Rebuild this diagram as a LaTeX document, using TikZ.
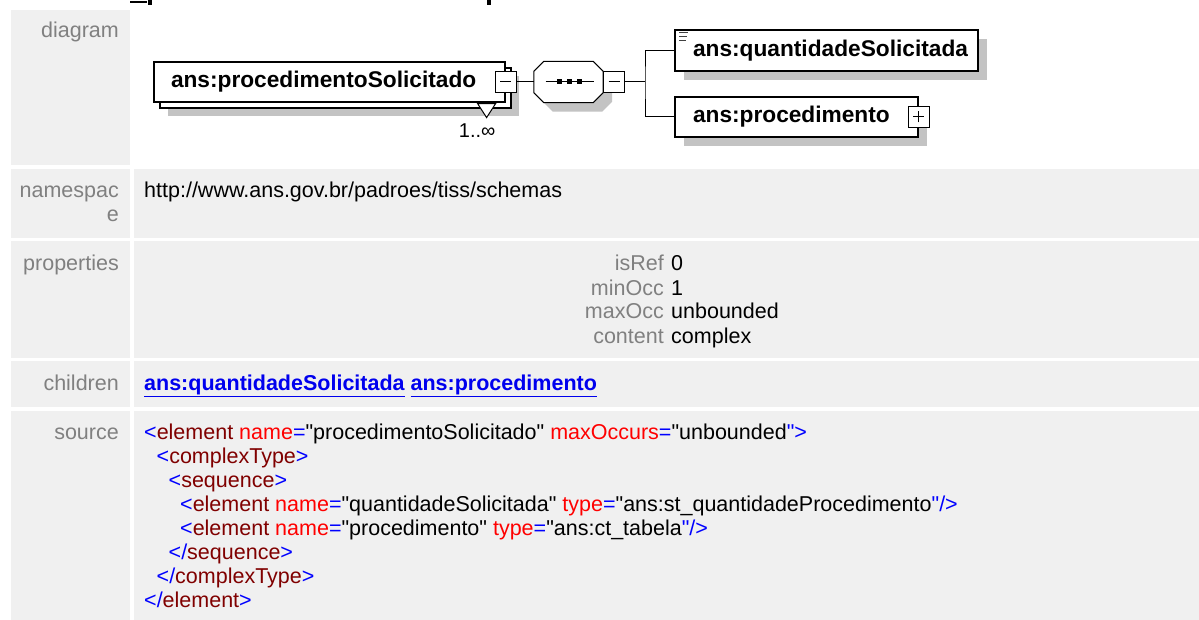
\documentclass[tikz,border=0pt]{standalone}
\usepackage{fontspec}
\setmainfont{Liberation Sans}
\usepackage{xcolor}
\usetikzlibrary{positioning, calc, shadows}
\definecolor{cellbg}{RGB}{240, 240, 240}
\definecolor{labelgray}{RGB}{128, 128, 128}
\definecolor{shadowgray}{RGB}{195, 195, 195}
\definecolor{xmlblue}{RGB}{0, 0, 255}
\definecolor{xmlmaroon}{RGB}{128, 0, 0}
\definecolor{xmlred}{RGB}{255, 0, 0}
\definecolor{linkblue}{RGB}{0, 0, 238}

\newcommand{\xmlbl}[1]{\textcolor{xmlblue}{#1}}
\newcommand{\xmlel}[1]{\textcolor{xmlmaroon}{#1}}
\newcommand{\xmlat}[1]{\textcolor{xmlred}{#1}}
\newcommand{\xmlq}{\textquotedbl}
% octagon outline of the sequence node, shifted by #1
\newcommand{\octpath}[1]{($(seq.north west)+(#1+10,#1)$) -- ($(seq.north east)+(#1-10,#1)$)
  -- ($(seq.north east)+(#1,#1+10)$) -- ($(seq.south east)+(#1,#1-10)$)
  -- ($(seq.south east)+(#1-10,#1)$) -- ($(seq.south west)+(#1+10,#1)$)
  -- ($(seq.south west)+(#1,#1-10)$) -- ($(seq.north west)+(#1,#1+10)$) -- cycle}

\tikzset{
  celltext/.style={inner sep=0pt, font=\fontsize{21.5}{24}\selectfont},
  rowlabel/.style={celltext, text=labelgray, anchor=base east},
  rowvalue/.style={celltext, text=black, anchor=base west},
  elembox/.style={draw, line width=1.2pt, fill=white, inner ysep=0pt, minimum height=40pt,
    align=left, font=\fontsize{22.7}{24}\selectfont\bfseries},
  boxshadow/.style={general shadow={fill=shadowgray, shadow xshift=9pt, shadow yshift=-9pt}},
  seqbox/.style={draw=none, inner sep=0pt, minimum width=69pt, minimum height=41pt},
  togglebox/.style={draw, line width=1pt, fill=white, minimum size=21pt, inner sep=0pt},
  minussign/.style={togglebox, path picture={
    \draw[line width=1pt] ([xshift=5pt]path picture bounding box.west) -- ([xshift=-5pt]path picture bounding box.east);}},
  plussign/.style={togglebox, path picture={
    \draw[line width=1pt] ([xshift=5pt]path picture bounding box.west) -- ([xshift=-5pt]path picture bounding box.east);
    \draw[line width=1pt] ([yshift=5pt]path picture bounding box.south) -- ([yshift=-5pt]path picture bounding box.north);}},
  connector/.style={line width=1pt},
}

\begin{document}
\begin{tikzpicture}[x=1pt, y=-1pt]
    \useasboundingbox (0,0) rectangle (1199,620);
    % Background
    \fill[white] (0,0) rectangle (1199,620);

    % Cut-off title fragments
    \fill (130,1) rectangle (147,3.5);
    \fill (148,0) rectangle (152,5);
    \fill (487,0) rectangle (491,5);

    % Table cells
    \fill[cellbg] (11,10) rectangle (130,165);
    \fill[cellbg] (11,169) rectangle (130,238);
    \fill[cellbg] (134,169) rectangle (1199,238);
    \fill[cellbg] (11,241) rectangle (130,358);
    \fill[cellbg] (134,241) rectangle (1199,358);
    \fill[cellbg] (11,361) rectangle (130,407);
    \fill[cellbg] (134,361) rectangle (1199,407);
    \fill[cellbg] (11,411) rectangle (130,620);
    \fill[cellbg] (134,411) rectangle (1199,620);

    % Row labels
    \node[rowlabel] (diaglbl) at (119,38) {diagram};
    \node[rowlabel] (nslbl) at (119,197.5) {namespac};
    \node[rowlabel] (nslbltail) at (119,221.5) {e};
    \node[rowlabel] (proplbl) at (119,271) {properties};
    \node[rowlabel] (kidslbl) at (119,390) {children};
    \node[rowlabel] (srclbl) at (119,439) {source};

    % Diagram: root element with repetition
    \node[elembox, inner xsep=17pt, text width=317pt,
          general shadow={fill=shadowgray, shadow xshift=14pt, shadow yshift=-14pt},
          general shadow={draw=black, fill=white, line width=1.2pt, shadow xshift=6pt, shadow yshift=-6pt}]
          (solicitado) at (329.5,82) {\mbox{ans:procedimentoSolicitado}};
    \draw[line width=1pt, fill=white] ([xshift=-28pt,yshift=-1pt]solicitado.south east) -- ++(18,0) -- ++(-9,14) -- cycle;
    \node[minussign] (solminus) at (solicitado.east) {};
    \node[anchor=base east, inner sep=0pt, font=\fontsize{20}{24}\selectfont] (mult)
          at ([xshift=-10pt,yshift=-35pt]solicitado.south east) {1..∞};

    % Sequence compositor
    \node[seqbox] (seq) at (568.5,82) {};
    \fill[shadowgray] \octpath{9};
    \draw[line width=1pt, fill=white] \octpath{0};
    \draw[line width=1pt] ([xshift=-23pt]seq.center) -- ([xshift=25pt]seq.center);
    \foreach \dx in {-9,1,11}
        \fill ([xshift=\dx pt]seq.center) +(-2.5,-2.5) rectangle +(2.5,2.5);
    \node[minussign, anchor=west] (seqminus) at (seq.east) {};
    \coordinate (fork) at (645,82);

    % Children elements
    \node[elembox, boxshadow, inner xsep=18pt, text width=267pt, minimum height=41pt] (qty) at (826.5,50.5) {\mbox{ans:quantidadeSolicitada}};
    \foreach \yy/\len in {3.3/9, 7.3/8, 11.3/7}
        \draw[line width=1.2pt, black!75] ([xshift=5pt,yshift=-\yy pt]qty.north west) -- ++(\len,0);
    \node[elembox, boxshadow, inner xsep=18pt, text width=207pt] (procitem) at (796.5,117) {\mbox{ans:procedimento}};
    \node[plussign] (procplus) at (procitem.east) {};

    % Connectors
    \draw[connector] (solminus.east) -- (seq.west);
    \draw[connector] (seqminus.east) -- (fork);
    \draw[connector] (qty.west) -| (fork) |- (procitem.west);

    % Namespace
    \node[rowvalue] (nsval) at (144,197.5) {http://www.ans.gov.br/padroes/tiss/schemas};

    % Properties
    \node[rowlabel] (isreflbl) at (664,271) {isRef};
    \node[rowvalue] (isrefval) at (671,271) {0};
    \node[rowlabel] (minlbl) at (664,295) {minOcc};
    \node[rowvalue] (minval) at (671,295) {1};
    \node[rowlabel] (maxlbl) at (664,319) {maxOcc};
    \node[rowvalue] (maxval) at (671,319) {unbounded};
    \node[rowlabel] (contlbl) at (664,343) {content};
    \node[rowvalue] (contval) at (671,343) {complex};

    % Children links
    \node[rowvalue, text=linkblue, font=\fontsize{21.5}{24}\selectfont\bfseries] (kids) at (144,390)
          {\underline{ans:quantidadeSolicitada} \underline{ans:procedimento}};

    % Source
    \node[rowvalue] (src1) at (144,439) {\xmlbl{<}\xmlel{element} \xmlat{name}\xmlbl{=}\xmlq procedimentoSolicitado\xmlq{} \xmlat{maxOccurs}\xmlbl{=}\xmlq unbounded\xmlbl{\xmlq>}};
    \node[rowvalue] (src2) at (156.5,463) {\xmlbl{<}\xmlel{complexType}\xmlbl{>}};
    \node[rowvalue] (src3) at (168.5,487) {\xmlbl{<}\xmlel{sequence}\xmlbl{>}};
    \node[rowvalue] (src4) at (180,511) {\xmlbl{<}\xmlel{element} \xmlat{name}\xmlbl{=}\xmlq quantidadeSolicitada\xmlq{} \xmlat{type}\xmlbl{=}\xmlq ans:st\_quantidadeProcedimento\xmlbl{\xmlq/>}};
    \node[rowvalue] (src5) at (180,535) {\xmlbl{<}\xmlel{element} \xmlat{name}\xmlbl{=}\xmlq procedimento\xmlq{} \xmlat{type}\xmlbl{=}\xmlq ans:ct\_tabela\xmlbl{\xmlq/>}};
    \node[rowvalue] (src6) at (168.5,559) {\xmlbl{</}\xmlel{sequence}\xmlbl{>}};
    \node[rowvalue] (src7) at (156.5,583) {\xmlbl{</}\xmlel{complexType}\xmlbl{>}};
    \node[rowvalue] (src8) at (144,607) {\xmlbl{</}\xmlel{element}\xmlbl{>}};

\end{tikzpicture}
\end{document}
